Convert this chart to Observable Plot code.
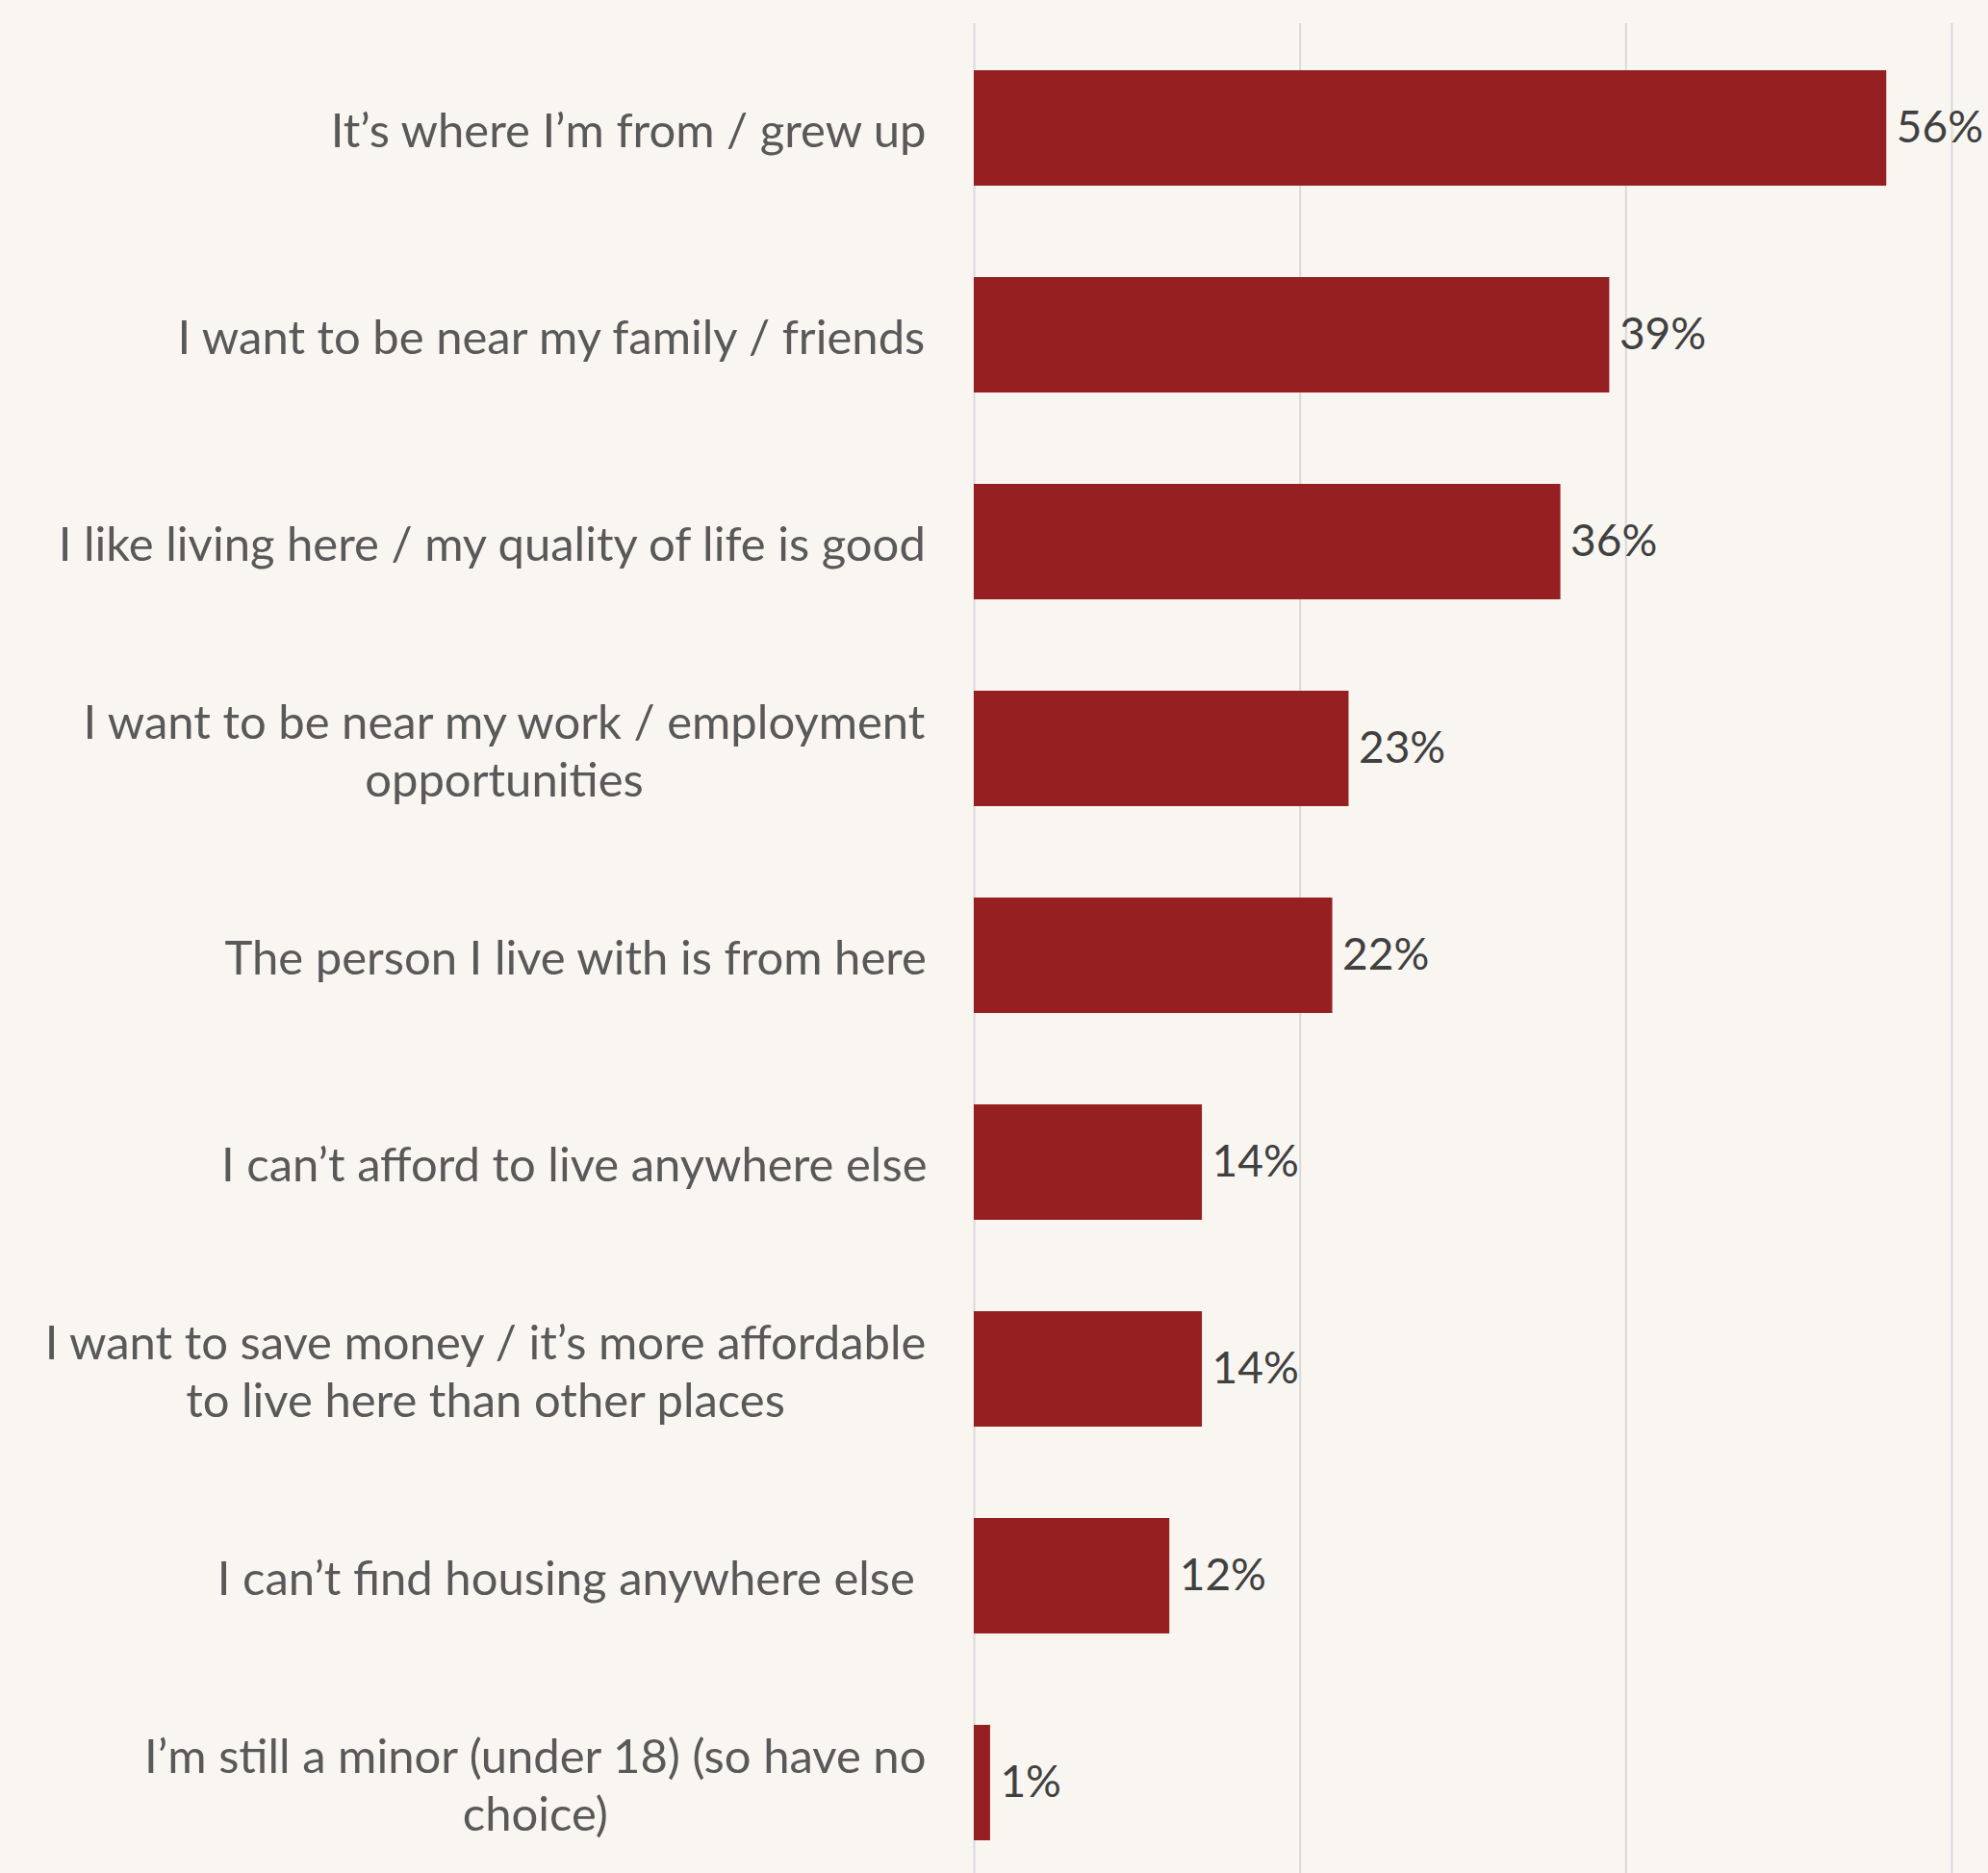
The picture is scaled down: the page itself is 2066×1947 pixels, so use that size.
<!DOCTYPE html>
<html>
<head>
<meta charset="utf-8">
<script src="https://cdn.jsdelivr.net/npm/d3@7"></script>
<script src="https://cdn.jsdelivr.net/npm/@observablehq/plot@0.6"></script>
<style>
  html, body { margin: 0; padding: 0; background: #f9f6f1; }
</style>
</head>
<body>
<div id="chart"></div>
<script>
const categories = [
  "It’s where I’m from / grew up",
  "I want to be near my family / friends",
  "I like living here / my quality of life is good",
  "I want to be near my work / employment\nopportunities",
  "The person I live with is from here",
  "I can’t afford to live anywhere else",
  "I want to save money / it’s more affordable\nto live here than other places",
  "I can’t find housing anywhere else ",
  "I’m still a minor (under 18) (so have no\nchoice)"
];
const values = [56, 39, 36, 23, 22, 14, 14, 12, 1];
const xTicks = [0, 20, 40, 60];

const data = categories.map((c, i) => ({cat: c, value: values[i]}));

const FONT = "Lato";
const LABEL_SIZE = 49;
const VALUE_SIZE = 46;
const ctx = document.createElement("canvas").getContext("2d");
ctx.font = `${LABEL_SIZE}px ${FONT}`;
const blockWidth = s => d3.max(s.split("\n"), l => ctx.measureText(l).width);

const marginLeft = 1012;
const labelRight = 963;

const labelMarks = categories.map(c => Plot.text([c], {
  y: d => d,
  text: d => d,
  frameAnchor: "left",
  textAnchor: "middle",
  lineAnchor: "middle",
  lineHeight: 1.22,
  dx: labelRight - blockWidth(c) / 2 - marginLeft,
  fill: "#595959",
  fontSize: LABEL_SIZE
}));

const chart = Plot.plot({
  width: 2066,
  height: 1947,
  marginLeft,
  marginRight: 38,
  marginTop: 24,
  marginBottom: 0,
  style: {background: "#f9f6f1", fontFamily: FONT, whiteSpace: "pre"},
  x: {domain: [0, 60], axis: null},
  y: {domain: categories, range: [72, 1914], paddingInner: 0.443, paddingOuter: 0, axis: null},
  marks: [
    Plot.gridX(xTicks, {stroke: "#d9d9d9", strokeOpacity: 1, strokeWidth: 2}),
    Plot.barX(data, {x: "value", y: "cat", fill: "#961f22"}),
    Plot.text(data, {
      x: "value", y: "cat", text: d => d.value + "%",
      textAnchor: "start", dx: 10, fill: "#404040", fontSize: VALUE_SIZE
    }),
    ...labelMarks
  ]
});
document.getElementById("chart").appendChild(chart);
</script>
</body>
</html>
